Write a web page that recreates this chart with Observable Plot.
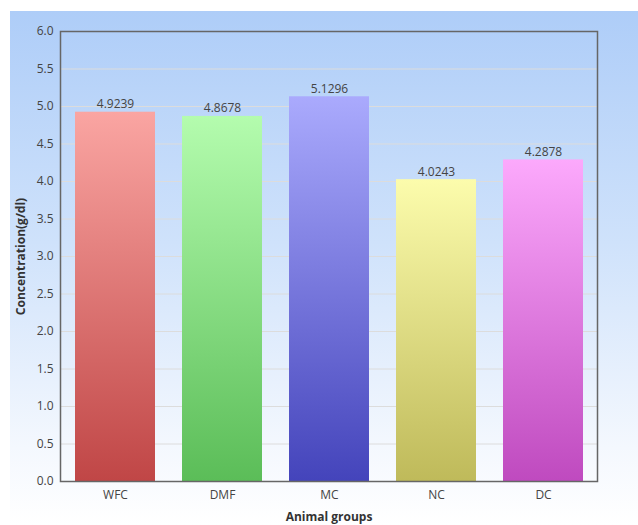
<!DOCTYPE html>
<html>
<head>
<meta charset="utf-8">
<script src="https://cdn.jsdelivr.net/npm/d3@7"></script>
<script src="https://cdn.jsdelivr.net/npm/@observablehq/plot@0.6"></script>
<style>
  html, body { margin: 0; padding: 0; background: #fff; }
  #wrap { position: relative; width: 638px; height: 525px; overflow: hidden; }
  #bg { position: absolute; left: 10px; top: 11px; right: 0; bottom: 0;
        background: linear-gradient(to bottom, #aecdf8 0%, #cfe2fb 45%, #f4f8fe 85%, #ffffff 100%); }
  #chart { position: absolute; left: 0; top: 0; }
  #chart svg { background: transparent !important; }
  g[aria-label="y-axis label"] text, g[aria-label="x-axis label"] text { font-weight: bold; fill: #333; }
</style>
</head>
<body>
<div id="wrap"><div id="bg"></div><div id="chart"></div></div>
<script>
const groups = ["WFC", "DMF", "MC", "NC", "DC"];
const values = [4.9239, 4.8678, 5.1296, 4.0243, 4.2878];
const labels = ["4.9239", "4.8678", "5.1296", "4.0243", "4.2878"];
const topColors = ["#faa5a2", "#b4fcae", "#aaaafd", "#fcfcac", "#fca9fc"];
const bottomColors = ["#c04646", "#5bbd58", "#4444bb", "#bfba5a", "#bf4abf"];
const yTicks = [0, 0.5, 1, 1.5, 2, 2.5, 3, 3.5, 4, 4.5, 5, 5.5, 6];

const data = groups.map((g, i) => ({group: g, value: values[i], label: labels[i], idx: i}));

const plot = Plot.plot({
  width: 638,
  height: 525,
  marginLeft: 60,
  marginRight: 41,
  marginTop: 31,
  marginBottom: 44,
  style: {fontFamily: "'Open Sans', sans-serif", fontSize: "12px", color: "#444", background: "transparent"},
  x: {domain: groups, paddingInner: 0.256, paddingOuter: 0.125, label: null},
  y: {domain: [0, 6], label: null},
  marks: [
    Plot.ruleY(yTicks.slice(1, -1), {stroke: "#dcdcdc", strokeWidth: 1}),
    ...data.map(d => Plot.barY([d], {x: "group", y: "value", fill: `url(#grad${d.idx})`})),
    Plot.text(data, {x: "group", y: "value", text: "label", dy: -8, fill: "#444", fontSize: 12}),
    Plot.frame({stroke: "#666", strokeWidth: 1.5}),
    Plot.axisY({ticks: yTicks, tickFormat: d3.format(".1f"), tickSize: 0, tickPadding: 7,
      label: "Concentration(g/dl)", labelAnchor: "center", labelOffset: 44, labelArrow: "none"}),
    Plot.axisX({tickSize: 0, tickPadding: 9, label: "Animal groups", labelAnchor: "center", labelOffset: 39, labelArrow: "none"})
  ]
});

const svg = d3.select(plot);
const defs = svg.insert("defs", ":first-child");
data.forEach(d => {
  const g = defs.append("linearGradient").attr("id", `grad${d.idx}`)
    .attr("x1", 0).attr("y1", 0).attr("x2", 0).attr("y2", 1);
  g.append("stop").attr("offset", "0%").attr("stop-color", topColors[d.idx]);
  g.append("stop").attr("offset", "100%").attr("stop-color", bottomColors[d.idx]);
});
document.getElementById("chart").appendChild(plot);
</script>
</body>
</html>
